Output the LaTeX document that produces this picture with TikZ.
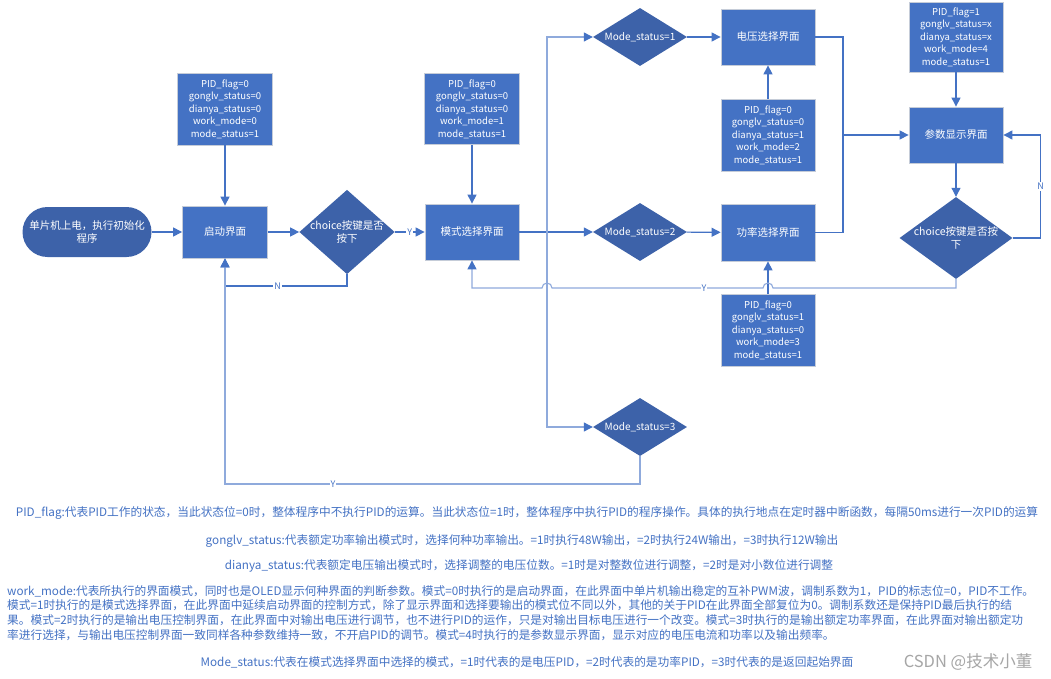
\documentclass[tikz,border=0pt]{standalone}
\usepackage{fontspec}
\setmainfont{Noto Sans CJK SC}
\usepackage{xcolor}
\usetikzlibrary{arrows.meta,shapes.geometric,calc}
\definecolor{boxblue}{HTML}{4472C4}
\definecolor{darkblue}{HTML}{3D62A9}
\definecolor{edgegray}{HTML}{C5CCD8}
\definecolor{lightline}{HTML}{8FAADC}
\tikzset{
  box/.style={draw=edgegray, line width=0.8pt, fill=boxblue, text=white, align=center,
              minimum width=94pt, minimum height=56pt, inner sep=0pt,
              font=\fontsize{10.5}{13}\selectfont},
  pidbox/.style={box, minimum height=72pt, font=\fontsize{9.5}{12.5}\selectfont},
  term/.style={fill=darkblue, text=white, rounded corners=25pt, align=center,
               minimum width=129pt, minimum height=50pt, inner sep=0pt,
               font=\fontsize{10.5}{13}\selectfont},
  dec/.style={diamond, fill=darkblue, text=white, align=center, inner sep=-1pt,
              font=\fontsize{10.5}{13}\selectfont},
  modedec/.style={dec, aspect=1.62, inner sep=0pt, minimum width=94pt, minimum height=58pt,
                  font=\fontsize{10}{12}\selectfont},
  flow/.style={-{Triangle[length=9pt,width=9pt,color=boxblue]}, draw=boxblue, line width=1.1pt},
  back/.style={flow, draw=lightline},
  yn/.style={fill=white, text=boxblue, inner sep=1pt, font=\fontsize{9}{9}\selectfont},
  note/.style={text=boxblue, inner sep=0pt, font=\fontsize{11.7}{14.7}\selectfont},
}

\begin{document}
\begin{tikzpicture}[x=1pt, y=-1pt]
  \fill[white] (0,0) rectangle (1051,679);
  \useasboundingbox (0,0) rectangle (1051,679);

  % left part
  \node[term] (start) at (87,232) {单片机上电，执行初始化\\程序};
  \node[box, minimum width=85pt, minimum height=52pt] (boot) at (225,232) {启动界面};
  \node[pidbox, minimum width=95pt] (p0) at (225,109) {PID\_flag=0\\gonglv\_status=0\\dianya\_status=0\\work\_mode=0\\mode\_status=1};
  \node[dec, aspect=1.13, minimum width=93pt, minimum height=82pt] (chk1) at (347,232) {choice按键是否\\按下};
  \node[box] (modesel) at (472,232) {模式选择界面};
  \node[pidbox, minimum width=95pt, minimum height=71pt] (p1) at (472,109) {PID\_flag=0\\gonglv\_status=0\\dianya\_status=0\\work\_mode=1\\mode\_status=1};

  % mode branches
  \node[modedec] (m1) at (640,37) {Mode\_status=1};
  \node[modedec] (m2) at (640,232) {Mode\_status=2};
  \node[modedec] (m3) at (640,427) {Mode\_status=3};
  \node[box] (volt) at (768,37) {电压选择界面};
  \node[box, minimum height=57pt] (pwr) at (768,232.5) {功率选择界面};
  \node[pidbox] (p2) at (768,135) {PID\_flag=0\\gonglv\_status=0\\dianya\_status=1\\work\_mode=2\\mode\_status=1};
  \node[pidbox] (p3) at (768,330) {PID\_flag=0\\gonglv\_status=1\\dianya\_status=0\\work\_mode=3\\mode\_status=1};

  % right part
  \node[box] (param) at (956,135) {参数显示界面};
  \node[pidbox, minimum height=70pt] (p4) at (956,37) {PID\_flag=1\\gonglv\_status=x\\dianya\_status=x\\work\_mode=4\\mode\_status=1};
  \node[dec, aspect=1.38, minimum width=113pt, minimum height=82pt] (chk2) at (956,238) {choice按键是否按\\下};

  \coordinate (fork) at (547,232);
  \coordinate (merge) at (843,135);

  % connectors
  \draw[flow] (start) -- (boot);
  \draw[flow] (p0) -- (boot);
  \draw[flow] (boot) -- (chk1);
  \draw[flow] (chk1) -- node[yn]{Y} (modesel);
  \draw[flow] (chk1.south) |- (300,286) -| node[yn, pos=0.15]{N} (boot.south);
  \draw[flow] (p1) -- (modesel);
  \draw[flow] (modesel) -- (m2);
  \draw[back] (fork) |- (m1);
  \draw[back] (fork) |- (m3);
  \draw[flow] (m1) -- (volt);
  \draw[flow] (m2) -- (pwr);
  \draw[flow] (p2) -- (volt);
  \draw[flow] (p3) -- (pwr);
  \draw[flow, -] (volt.east) -| (merge);
  \draw[flow, -] (pwr.east) -| (merge);
  \draw[flow] (merge) -- (param);
  \draw[flow] (p4) -- (param);
  \draw[flow] (param) -- (chk2);
  \draw[flow] (chk2.east) -- ++(28,0) |- node[yn, pos=0.25]{N} (param.east);
  \draw[back] (chk2.south) |- (773,288)
    arc[start angle=0, end angle=-180, radius=5]
    -- node[yn, pos=0.28]{Y} (552,288)
    arc[start angle=0, end angle=-180, radius=5]
    -| (modesel.south);
  \draw[back] (m3.south) |- (600,484) -| node[yn, pos=0.356]{Y} (boot.south);

  % notes
  \node[note] (n1) at (527,513) {PID\_flag:代表PID工作的状态，当此状态位=0时，整体程序中不执行PID的运算。当此状态位=1时，整体程序中执行PID的程序操作。具体的执行地点在定时器中断函数，每隔50ms进行一次PID的运算};
  \node[note] (n2) at (522,541) {gonglv\_status:代表额定功率输出模式时，选择何种功率输出。=1时执行48W输出，=2时执行24W输出，=3时执行12W输出};
  \node[note] (n3) at (529,566) {dianya\_status:代表额定电压输出模式时，选择调整的电压位数。=1时是对整数位进行调整，=2时是对小数位进行调整};
  \node[note, anchor=north west, align=left] (n4) at (7,585) {work\_mode:代表所执行的界面模式，同时也是OLED显示何种界面的判断参数。模式=0时执行的是启动界面，在此界面中单片机输出稳定的互补PWM波，调制系数为1，PID的标志位=0，PID不工作。\\模式=1时执行的是模式选择界面，在此界面中延续启动界面的控制方式，除了显示界面和选择要输出的模式位不同以外，其他的关于PID在此界面全部复位为0。调制系数还是保持PID最后执行的结\\果。模式=2时执行的是输出电压控制界面，在此界面中对输出电压进行调节，也不进行PID的运作，只是对输出目标电压进行一个改变。模式=3时执行的是输出额定功率界面，在此界面对输出额定功\\率进行选择，与输出电压控制界面一致同样各种参数维持一致，不开启PID的调节。模式=4时执行的是参数显示界面，显示对应的电压电流和功率以及输出频率。};
  \node[note] (n5) at (527,662) {Mode\_status:代表在模式选择界面中选择的模式，=1时代表的是电压PID，=2时代表的是功率PID，=3时代表的是返回起始界面};
  \node[text=gray!70, inner sep=0pt, font=\fontsize{16.5}{16.5}\selectfont] (wm) at (968,662) {CSDN @技术小董};
\end{tikzpicture}
\end{document}
